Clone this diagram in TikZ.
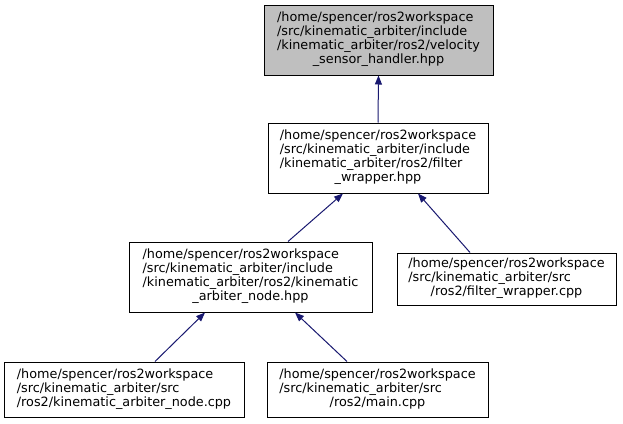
\documentclass[tikz,border=0pt]{standalone}
\usepackage{fontspec}
\setmainfont{DejaVu Sans}
\usetikzlibrary{arrows.meta}
\definecolor{edgeblue}{HTML}{191970}
\definecolor{focusgray}{HTML}{BFBFBF}
\tikzset{
  filebox/.style={draw=black, line width=1pt, inner sep=0pt, font=\fontsize{12.8}{14}\selectfont},
  edge/.style={draw=edgeblue, line width=1pt, -{Triangle[length=9pt,width=7pt]}},
}
\newcommand{\lastc}[1]{\multicolumn{1}{@{}c@{}}{#1}}
\begin{document}
\begin{tikzpicture}[x=1pt,y=-1pt]
\useasboundingbox (0,0) rectangle (623,423);
\fill[white] (0,0) rectangle (623,423);
\node[filebox, fill=focusgray, minimum width=229pt, minimum height=70pt] (A) at (378.5,40)
  {\begin{tabular}{@{}l@{}}/home/spencer/ros2workspace\\/src/kinematic\_arbiter/include\\/kinematic\_arbiter/ros2/velocity\\\lastc{\_sensor\_handler.hpp}\end{tabular}};
\node[filebox, minimum width=220pt, minimum height=70pt] (B) at (378,158)
  {\begin{tabular}{@{}l@{}}/home/spencer/ros2workspace\\/src/kinematic\_arbiter/include\\/kinematic\_arbiter/ros2/filter\\\lastc{\_wrapper.hpp}\end{tabular}};
\node[filebox, minimum width=243pt, minimum height=70pt] (C) at (250.5,277)
  {\begin{tabular}{@{}l@{}}/home/spencer/ros2workspace\\/src/kinematic\_arbiter/include\\/kinematic\_arbiter/ros2/kinematic\\\lastc{\_arbiter\_node.hpp}\end{tabular}};
\node[filebox, minimum width=219pt, minimum height=52pt] (D) at (506.5,279)
  {\begin{tabular}{@{}l@{}}/home/spencer/ros2workspace\\/src/kinematic\_arbiter/src\\\lastc{/ros2/filter\_wrapper.cpp}\end{tabular}};
\node[filebox, minimum width=240pt, minimum height=55pt] (E) at (124,389.5)
  {\begin{tabular}{@{}l@{}}/home/spencer/ros2workspace\\/src/kinematic\_arbiter/src\\/ros2/kinematic\_arbiter\_node.cpp\end{tabular}};
\node[filebox, minimum width=221pt, minimum height=55pt] (F) at (377.5,389.5)
  {\begin{tabular}{@{}l@{}}/home/spencer/ros2workspace\\/src/kinematic\_arbiter/src\\\lastc{/ros2/main.cpp}\end{tabular}};
\draw[edge] (B.north) -- (A.south);
\draw[edge] ([xshift=37.5pt]C.north) -- ([xshift=-35pt]B.south);
\draw[edge] ([xshift=-36.5pt]D.north) -- ([xshift=40pt]B.south);
\draw[edge] ([xshift=31pt]E.north) -- ([xshift=-45.5pt]C.south);
\draw[edge] ([xshift=-30.5pt]F.north) -- ([xshift=44.5pt]C.south);
\end{tikzpicture}
\end{document}
